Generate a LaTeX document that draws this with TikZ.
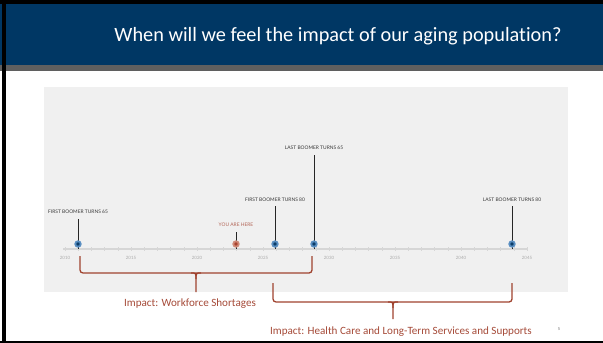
\documentclass[tikz,border=0pt]{standalone}
\usepackage{fontspec}
\setmainfont{Carlito}[Ligatures=NoCommon]
\newfontfamily\lblfont{Lato}
\definecolor{hdrblue}{HTML}{003764}
\definecolor{hdrgray}{HTML}{5F5F5F}
\definecolor{panel}{HTML}{F0F0F0}
\definecolor{brick}{HTML}{A0432F}
\definecolor{brtext}{HTML}{A64B39}
\definecolor{mcore}{HTML}{0B3C68}
\definecolor{mring}{HTML}{5A8FC2}
\definecolor{rcore}{HTML}{A8432F}
\definecolor{rring}{HTML}{D08A78}
\definecolor{axisgray}{HTML}{D6D6D6}
\definecolor{yeargray}{HTML}{ABABAB}
\tikzset{
  mkblue/.style={circle,inner sep=0pt,minimum size=5.5pt,fill=mcore,draw=mring,line width=1.8pt},
  mkred/.style={circle,inner sep=0pt,minimum size=5.5pt,fill=rcore,draw=rring,line width=1.8pt},
  stem/.style={draw=black!85,line width=1pt},
  evlbl/.style={font=\lblfont\fontsize{4.9}{5.5}\selectfont,text=black!78,inner sep=0pt,anchor=base},
  yearlbl/.style={font=\lblfont\fontsize{4.4}{5}\selectfont,text=yeargray,inner sep=0pt,anchor=base},
  bracepath/.style={draw=brick,line width=1.3pt,rounded corners=3pt},
  impact/.style={font=\fontsize{11.1}{13}\selectfont,text=brtext,inner sep=0pt,anchor=base}
}
\begin{document}
\begin{tikzpicture}[x=1pt,y=-1pt]
\useasboundingbox (0,0) rectangle (603,343);
% frame and header
\fill[white] (0,0) rectangle (603,343);
\fill[hdrblue] (0,0) rectangle (603,65);
\fill[hdrgray] (0,65) rectangle (603,71);
\fill[black] (0,0) rectangle (603,3.5);
\fill[black] (1.5,0) rectangle (5.5,343);
\fill[black] (0,340.8) rectangle (603,343);
\node[text=white,font=\fontsize{20.3}{23}\selectfont,inner sep=0pt,anchor=base] (title) at (338,41) {When will we feel the impact of our aging population?};
% panel
\fill[panel] (44,87) rectangle (568,292);
% axis
\draw[axisgray,line width=1.2pt] (63,249) coordinate (axL) -- (527,249) coordinate (axR);
\foreach \i in {0,...,35} {
  \draw[axisgray,line width=0.5pt] ({65+\i*13.2},247) -- ({65+\i*13.2},251);
}
\foreach \yr [count=\k from 0] in {2010,2015,2020,2025,2030,2035,2040,2045} {
  \node[yearlbl] (yr\k) at ({65+\k*66},259) {\yr};
}
% stems
\coordinate (t1) at (78,219);
\coordinate (t2) at (236,232);
\coordinate (t3) at (275,206);
\coordinate (t4) at (314,155);
\coordinate (t5) at (512,206);
\draw[stem] (78,249) -- (t1);
\draw[stem] (236,249) -- (t2);
\draw[stem] (275,249) -- (t3);
\draw[stem] (314,249) -- (t4);
\draw[stem] (512,249) -- (t5);
\node[mkblue] (m1) at (78,244) {};
\node[mkred]  (m2) at (236,244) {};
\node[mkblue] (m3) at (275,244) {};
\node[mkblue] (m4) at (314,244) {};
\node[mkblue] (m5) at (512,244) {};
\node[evlbl] (l1) at (78,213) {FIRST BOOMER TURNS 65};
\node[evlbl,text=brtext!85] (l2) at (236,226) {YOU ARE HERE};
\node[evlbl] (l3) at (275,201) {FIRST BOOMER TURNS 80};
\node[evlbl] (l4) at (314,149) {LAST BOOMER TURNS 65};
\node[evlbl] (l5) at (512,201) {LAST BOOMER TURNS 80};
% brace 1
\draw[bracepath] (80,256) -- (80,273) -- (312,273) -- (312,256);
\draw[draw=brick,line width=1.3pt] (191,273) .. controls (196,273) .. (196,279) -- (196,292) coordinate (b1tip);
\draw[draw=brick,line width=1.3pt] (201,273) .. controls (196,273) .. (196,279);
\node[impact] (i1) at (190,306) {Impact: Workforce Shortages};
% brace 2
\draw[bracepath] (273,283) -- (273,302) -- (512,302) -- (512,283);
\draw[draw=brick,line width=1.3pt] (388,302) .. controls (393,302) .. (393,308) -- (393,319) coordinate (b2tip);
\draw[draw=brick,line width=1.3pt] (398,302) .. controls (393,302) .. (393,308);
\node[impact] (i2) at (401,334) {Impact: Health Care and Long-Term Services and Supports};
\node[font=\fontsize{4.5}{5}\selectfont,text=black!55,inner sep=0pt] (pg) at (559,329) {5};
\end{tikzpicture}
\end{document}
